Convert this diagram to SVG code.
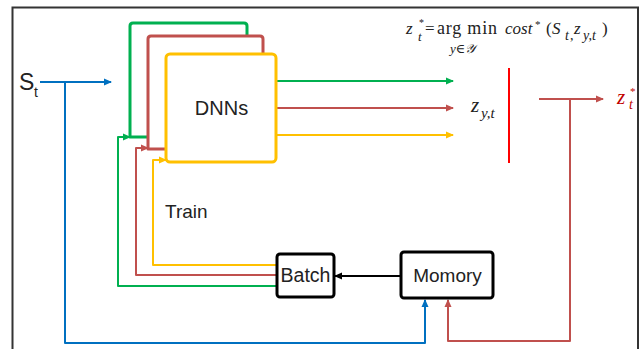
<svg xmlns="http://www.w3.org/2000/svg" width="644" height="349" viewBox="0 0 644 349">
<style>
.ln{fill:none;stroke-width:2;stroke-linejoin:round}
.g{stroke:#00b050}.r{stroke:#c0504d}.y{stroke:#ffc000}.b{stroke:#0070c0}.k{stroke:#000}
.box{fill:#fff;stroke:#000;stroke-width:3}
.sans{font-family:"Liberation Sans",Arial,sans-serif;fill:#222}
.ser{font-family:"Liberation Serif","DejaVu Serif",serif;fill:#222}
.it{font-style:italic}
</style>
<defs>
<marker id="ag" markerWidth="8" markerHeight="8" refX="7" refY="4" orient="auto" markerUnits="userSpaceOnUse"><path d="M0,0.5 L8,4 L0,7.5 Z" fill="#00b050"/></marker>
<marker id="ar" markerWidth="8" markerHeight="8" refX="7" refY="4" orient="auto" markerUnits="userSpaceOnUse"><path d="M0,0.5 L8,4 L0,7.5 Z" fill="#c0504d"/></marker>
<marker id="ay" markerWidth="8" markerHeight="8" refX="7" refY="4" orient="auto" markerUnits="userSpaceOnUse"><path d="M0,0.5 L8,4 L0,7.5 Z" fill="#ffc000"/></marker>
<marker id="ab" markerWidth="8" markerHeight="8" refX="7" refY="4" orient="auto" markerUnits="userSpaceOnUse"><path d="M0,0.5 L8,4 L0,7.5 Z" fill="#0070c0"/></marker>
<marker id="ak" markerWidth="8" markerHeight="8" refX="7" refY="4" orient="auto" markerUnits="userSpaceOnUse"><path d="M0,0.5 L8,4 L0,7.5 Z" fill="#000"/></marker>
</defs>
<rect x="0" y="0" width="644" height="349" fill="#fff"/>
<rect x="12.5" y="7.5" width="625.5" height="360" fill="none" stroke="#333" stroke-width="2"/>

<g id="connectors">
  <path class="ln g" style="stroke-width:3" d="M148,137 L130,137 L130,26 Q130,23 133,23 L244,23 Q247,23 247,26 L247,36"/>
  <path class="ln r" style="stroke-width:3" d="M166,149 L148,149 L148,39 Q148,36 151,36 L260,36 Q263,36 263,39 L263,54"/>
  <path class="ln b" d="M40,82 L111,82" marker-end="url(#ab)"/>
  <path class="ln b" d="M65,82 L65,343 L425,343 L425,300" marker-end="url(#ab)"/>
  <path class="ln g" d="M276,81 L453,81" marker-end="url(#ag)"/>
  <path class="ln r" d="M276,108 L453,108" marker-end="url(#ar)"/>
  <path class="ln y" d="M276,135 L453,135" marker-end="url(#ay)"/>
  <path d="M509,68 L509,163" stroke="#ff0000" stroke-width="2"/>
  <path class="ln r" d="M539,99 L603,99" marker-end="url(#ar)"/>
  <path class="ln r" d="M570,99 L570,341 L448,341 L448,300" marker-end="url(#ar)"/>
  <path class="ln k" d="M401,276 L335,276" marker-end="url(#ak)"/>
  <path class="ln y" d="M277,265 L153,265 L153,160 L166,160" marker-end="url(#ay)"/>
  <path class="ln r" d="M277,275 L136,275 L136,148 L148,148" marker-end="url(#ar)"/>
  <path class="ln g" d="M277,286 L118,286 L118,137 L130,137" marker-end="url(#ag)"/>
</g>

<g id="dnns">
  <rect x="166" y="54" width="110" height="108" rx="4" fill="#fff" stroke="#ffc000" stroke-width="3"/>
  <text class="sans" x="221.5" y="115" font-size="20" text-anchor="middle">DNNs</text>
</g>

<g id="batch">
  <rect class="box" x="277" y="254" width="57" height="43" rx="3"/>
  <text class="sans" x="305.5" y="282" font-size="19.5" text-anchor="middle">Batch</text>
</g>

<g id="memory">
  <rect class="box" x="401" y="252" width="92" height="46" rx="3"/>
  <text class="sans" x="447.5" y="282" font-size="19" text-anchor="middle">Momory</text>
</g>

<g id="labels">
  <text class="sans" x="19" y="90" font-size="23">S</text>
  <text class="sans" x="34" y="97" font-size="14">t</text>
  <text class="sans" x="165" y="218" font-size="19">Train</text>

  <text class="ser it" x="471" y="112" font-size="21">z</text>
  <text class="ser it" x="481" y="118" font-size="15">y,t</text>

  <text class="ser it" x="617" y="104" font-size="21" style="fill:#c00000">z</text>
  <text class="ser it" x="629" y="109" font-size="14" style="fill:#c00000">t</text>
  <text class="ser" x="630" y="95" font-size="11" style="fill:#c00000">*</text>

  <text class="ser it" x="406" y="34" font-size="17">z</text>
  <text class="ser" x="419" y="26" font-size="10">*</text>
  <text class="ser it" x="418" y="41" font-size="13">t</text>
  <text class="ser" x="425" y="34" font-size="17">=</text>
  <text class="ser" x="437" y="34" font-size="18" textLength="60" lengthAdjust="spacing">arg min</text>
  <text class="ser it" x="505" y="34" font-size="17">cost</text>
  <text class="ser" x="535" y="28" font-size="11">*</text>
  <text class="ser" x="546" y="34" font-size="17">(</text>
  <text class="ser it" x="552" y="34" font-size="17">S</text>
  <text class="ser it" x="565" y="40" font-size="14">t</text>
  <text class="ser" x="570" y="40" font-size="14">,</text>
  <text class="ser it" x="574" y="34" font-size="17">z</text>
  <text class="ser it" x="583" y="40" font-size="14">y,t</text>
  <text class="ser" x="602" y="34" font-size="17">)</text>
  <text class="ser it" x="450" y="53" font-size="13">y∈𝒴</text>
</g>
</svg>
